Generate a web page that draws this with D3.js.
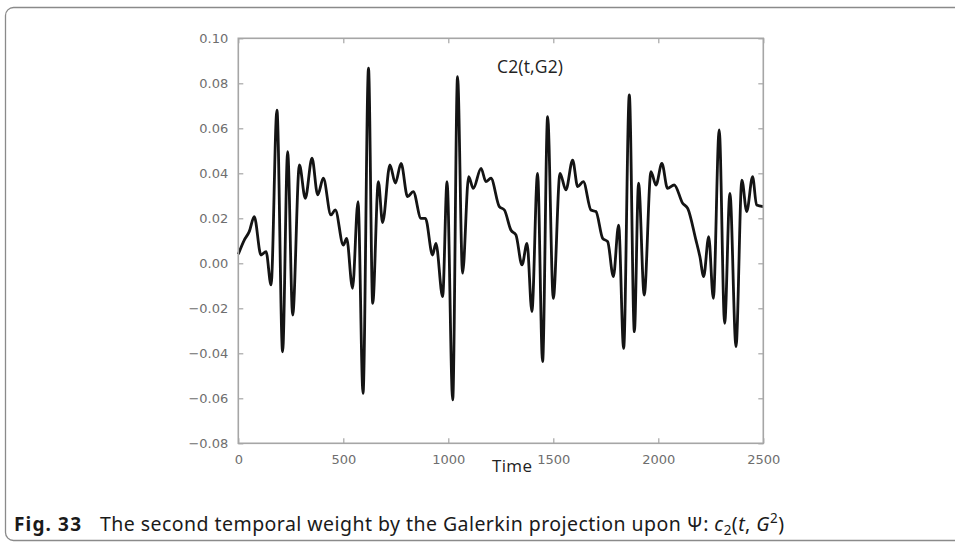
<!DOCTYPE html>
<html>
<head>
<meta charset="utf-8">
<script src="https://cdn.jsdelivr.net/npm/d3@7"></script>
<style>
  html, body { margin: 0; padding: 0; background: #fff; }
  svg { display: block; }
</style>
</head>
<body>
<svg id="chart" width="955" height="543"></svg>
<script>
// ---- data ----
const times = [0, 29, 52, 76, 108, 132, 156, 184, 211, 235, 259, 291, 319, 351, 378, 405, 441, 462, 500, 516,
  544, 570, 594, 620, 640, 667, 687, 722, 748, 775, 806, 833, 870, 891, 925, 941, 973, 994, 1021, 1044,
  1068, 1097, 1119, 1156, 1179, 1203, 1243, 1267, 1298, 1322, 1351, 1375, 1398, 1425, 1449, 1473, 1500,
  1532, 1560, 1592, 1616, 1643, 1679, 1703, 1735, 1759, 1786, 1811, 1835, 1862, 1886, 1906, 1933, 1965,
  1989, 2017, 2044, 2076, 2116, 2140, 2179, 2198, 2216, 2240, 2262, 2290, 2316, 2341, 2370, 2398, 2421,
  2449, 2468, 2500];
const c2 = [0.004, 0.0104, 0.0141, 0.0207, 0.0037, 0.0052, -0.0096, 0.0681, -0.0393, 0.0496, -0.0230, 0.0437,
  0.0289, 0.0467, 0.0304, 0.0378, 0.0215, 0.0237, 0.0081, 0.0111,
  -0.0111, 0.0274, -0.0578, 0.0867, -0.0178, 0.0363, 0.0181, 0.0437, 0.0356, 0.0444, 0.0296, 0.0319,
  0.0200, 0.0200, 0.0037, 0.0089, -0.0148, 0.0363, -0.0607, 0.0830,
  -0.0044, 0.0385, 0.0333, 0.0422, 0.0363, 0.0378, 0.0252, 0.0237, 0.0148, 0.0126, -0.0007, 0.0089,
  -0.0215, 0.0400, -0.0437, 0.0652, -0.0156,
  0.0400, 0.0326, 0.0459, 0.0341, 0.0363, 0.0237, 0.0230, 0.0111, 0.0096, -0.0059, 0.0170, -0.0378,
  0.0748, -0.0304, 0.0356, -0.0141, 0.0407,
  0.0348, 0.0444, 0.0333, 0.0348, 0.0267, 0.0244, 0.0104, 0.0030, -0.0059, 0.0119, -0.0156, 0.0593,
  -0.0267, 0.0311, -0.0370, 0.0370, 0.0230,
  0.0385, 0.0259, 0.0252];
const xTicks = [0, 500, 1000, 1500, 2000, 2500];
const yTicks = [-0.08, -0.06, -0.04, -0.02, 0.00, 0.02, 0.04, 0.06, 0.08, 0.10];
const seriesLabel = "C2(t,G2)";
const xLabel = "Time";
const captionBold = "Fig. 33";
const captionText = "The second temporal weight by the Galerkin projection upon \u03A8: ";

// ---- layout ----
const svg = d3.select("#chart");
const plot = { left: 238.3, right: 763.3, top: 38.3, bottom: 443.3 };

// outer frame (rounded, left/top visible, runs off the right edge)
svg.append("rect")
  .attr("x", 5.5).attr("y", 7.5)
  .attr("width", 1000).attr("height", 533)
  .attr("rx", 8).attr("ry", 8)
  .attr("fill", "none").attr("stroke", "#8a8a8a").attr("stroke-width", 1.3);

const x = d3.scaleLinear().domain([0, 2500]).range([plot.left, plot.right]);
const y = d3.scaleLinear().domain([-0.08, 0.10]).range([plot.bottom, plot.top]);

const axisColor = "#a6a6a6";
const tickFont = "13px 'DejaVu Sans', sans-serif";
const fmtY = d3.format(".2f");

function styleAxis(g, showText) {
  g.select(".domain").remove();
  g.selectAll(".tick line").attr("stroke", axisColor).attr("stroke-width", 1.2);
  g.selectAll(".tick text")
    .attr("fill", "#6e6e6e")
    .style("font", tickFont)
    .style("display", showText ? null : "none");
}

svg.append("g").attr("transform", `translate(0,${plot.bottom})`)
  .call(d3.axisBottom(x).tickValues(xTicks).tickSize(-5).tickPadding(11).tickFormat(d3.format("d")))
  .call(g => styleAxis(g, true));
svg.append("g").attr("transform", `translate(0,${plot.top})`)
  .call(d3.axisTop(x).tickValues(xTicks).tickSize(-5))
  .call(g => styleAxis(g, false));
svg.append("g").attr("transform", `translate(${plot.left},0)`)
  .call(d3.axisLeft(y).tickValues(yTicks).tickSize(-5).tickPadding(10).tickFormat(fmtY))
  .call(g => styleAxis(g, true));
svg.append("g").attr("transform", `translate(${plot.right},0)`)
  .call(d3.axisRight(y).tickValues(yTicks).tickSize(-5))
  .call(g => styleAxis(g, false));

// data line
const pts = times.map((t, i) => [t, c2[i]]);
const line = d3.line().x(d => x(d[0])).y(d => y(d[1])).curve(d3.curveMonotoneX);
svg.append("path")
  .datum(pts)
  .attr("d", line)
  .attr("fill", "none")
  .attr("stroke", "#141414")
  .attr("stroke-width", 2.8)
  .attr("stroke-linejoin", "round");

// plot frame
svg.append("rect")
  .attr("x", plot.left).attr("y", plot.top)
  .attr("width", plot.right - plot.left).attr("height", plot.bottom - plot.top)
  .attr("fill", "none").attr("stroke", axisColor).attr("stroke-width", 1.6);

// helper: widen a text to a target width with letter spacing
function fitWidth(sel, target) {
  const node = sel.node();
  const w = node.getComputedTextLength();
  const n = node.textContent.length;
  if (n > 1 && w < target) sel.style("letter-spacing", ((target - w) / (n - 1)) + "px");
}

// series label inside the plot
const lab = svg.append("text")
  .attr("x", 497).attr("y", y(0.0845))
  .attr("fill", "#222")
  .style("font", "17.5px 'Open Sans', sans-serif")
  .text(seriesLabel);
fitWidth(lab, 66);

// x-axis label
const xl = svg.append("text")
  .attr("x", 492).attr("y", plot.bottom + 29)
  .attr("fill", "#222")
  .style("font", "17px 'Open Sans', sans-serif")
  .text(xLabel);
fitWidth(xl, 40);

// caption
const capY = 531;
const capFont = "'Noto Sans', 'Open Sans', sans-serif";
const fb = svg.append("text")
  .attr("x", 14).attr("y", capY)
  .attr("fill", "#1a1a1a")
  .style("font-family", capFont).style("font-weight", "bold").style("font-size", "19px")
  .text(captionBold);
fitWidth(fb, 67);

const cap = svg.append("text")
  .attr("x", 100).attr("y", capY)
  .attr("fill", "#1a1a1a")
  .style("font-family", capFont).style("font-size", "19.5px");
cap.append("tspan").text(captionText);
cap.append("tspan").style("font-style", "italic").text("c");
cap.append("tspan").attr("dy", 4).style("font-size", "13.5px").text("2");
cap.append("tspan").attr("dy", -4).text("(");
cap.append("tspan").style("font-style", "italic").text("t");
cap.append("tspan").text(", ");
cap.append("tspan").style("font-style", "italic").text("G");
cap.append("tspan").attr("dy", -8).style("font-size", "13.5px").text("2");
cap.append("tspan").attr("dy", 8).text(")");
fitWidth(cap, 684);
</script>
</body>
</html>
